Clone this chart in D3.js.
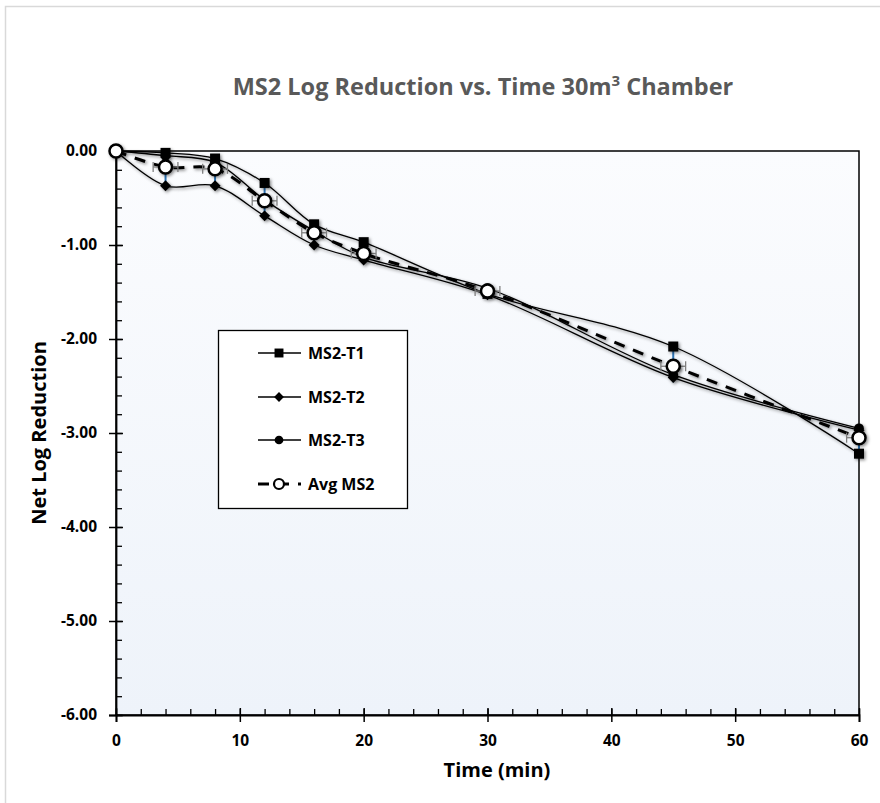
<!DOCTYPE html>
<html>
<head>
<meta charset="utf-8">
<script src="https://cdn.jsdelivr.net/npm/d3@7"></script>
<style>
  body { margin: 0; background: #ffffff; }
  text { font-family: "Open Sans", "DejaVu Sans", sans-serif; font-weight: bold; }
</style>
</head>
<body>
<div id="canvas"></div>
<script>
"use strict"

/* Data */
let times = [0, 4, 8, 12, 16, 20, 30, 45, 60];
let seriesT1 = [0, -0.02, -0.08, -0.34, -0.78, -0.97, -1.52, -2.08, -3.22];
let seriesT2 = [0, -0.37, -0.37, -0.69, -1.00, -1.16, -1.53, -2.41, -2.97];
let seriesT3 = [0, -0.05, -0.12, -0.52, -0.85, -1.13, -1.46, -2.38, -2.95];
let seriesAvg = [0, -0.17, -0.19, -0.53, -0.87, -1.09, -1.49, -2.29, -3.05];
let avgYErr = [0, 0.17, 0.15, 0.18, 0.11, 0.10, 0.04, 0.17, 0.14];
let avgXErr = [0, 1, 1, 1, 1, 1, 1, 1, 1];
let legendNames = ["MS2-T1", "MS2-T2", "MS2-T3", "Avg MS2"];
let xTicks = [0, 10, 20, 30, 40, 50, 60];
let yTicks = [0, -1, -2, -3, -4, -5, -6];

/* Drawing configuration */
let svgWidth = 880;
let svgHeight = 803;
let plot = {left: 116, right: 859, top: 151, bottom: 715};

let svg = d3.select("#canvas")
    .append("svg")
    .attr("width", svgWidth)
    .attr("height", svgHeight);

let defs = svg.append("defs");

let grad = defs.append("linearGradient")
    .attr("id", "bg")
    .attr("x1", 0).attr("y1", 0)
    .attr("x2", 0).attr("y2", 1);
grad.append("stop").attr("offset", "0%").attr("stop-color", "#fbfcfe");
grad.append("stop").attr("offset", "100%").attr("stop-color", "#eef3fa");

let shadow = defs.append("filter")
    .attr("id", "shadow")
    .attr("x", "-50%").attr("y", "-50%")
    .attr("width", "200%").attr("height", "200%");
shadow.append("feDropShadow")
    .attr("dx", 1.5).attr("dy", 1.5)
    .attr("stdDeviation", 1.5)
    .attr("flood-color", "#000")
    .attr("flood-opacity", 0.45);

/* outer chart frame */
svg.append("rect")
    .attr("x", 5.5).attr("y", 6.5)
    .attr("width", svgWidth).attr("height", svgHeight)
    .attr("fill", "#ffffff")
    .attr("stroke", "#d9d9d9")
    .attr("stroke-width", 1.5);

let xScale = d3.scaleLinear()
    .domain([0, 60])
    .range([plot.left, plot.right]);

let yScale = d3.scaleLinear()
    .domain([-6, 0])
    .range([plot.bottom, plot.top]);

/* plot background and border */
svg.append("rect")
    .attr("x", plot.left)
    .attr("y", plot.top)
    .attr("width", plot.right - plot.left)
    .attr("height", plot.bottom - plot.top)
    .attr("fill", "url(#bg)")
    .attr("stroke", "#000")
    .attr("stroke-width", 1.5);

/* title */
let title = svg.append("text")
    .attr("x", 483)
    .attr("y", 95)
    .attr("text-anchor", "middle")
    .attr("fill", "#595959")
    .style("font-size", "23.5px");
title.append("tspan").text("MS2 Log Reduction vs. Time 30m");
title.append("tspan").attr("dy", -9).style("font-size", "15px").text("3");
title.append("tspan").attr("dy", 9).text(" Chamber");

/* axes: minor ticks first, then majors */
svg.append("g")
    .attr("transform", "translate(0," + plot.bottom + ")")
    .call(d3.axisBottom(xScale).tickValues(d3.range(0, 61, 2)).tickSize(-6).tickFormat(""))
    .call(g => g.select(".domain").remove())
    .selectAll("line").attr("stroke", "#000").attr("stroke-width", 1.3);

svg.append("g")
    .attr("transform", "translate(" + plot.left + ",0)")
    .call(d3.axisLeft(yScale).tickValues(d3.range(-30, 1).map(d => d / 5)).tickSize(-6).tickFormat(""))
    .call(g => g.select(".domain").remove())
    .selectAll("line").attr("stroke", "#000").attr("stroke-width", 1.3);

let xAxis = svg.append("g")
    .attr("transform", "translate(0," + plot.bottom + ")")
    .call(d3.axisBottom(xScale).tickValues(xTicks).tickSize(7).tickPadding(13).tickFormat(d3.format("d")));
xAxis.select(".domain").attr("stroke", "#000").attr("stroke-width", 1.8);
xAxis.selectAll(".tick line").attr("y1", -7).attr("stroke", "#000").attr("stroke-width", 1.5);
xAxis.selectAll(".tick text").attr("fill", "#000").style("font-size", "15.5px")
    .style("font-family", "'Open Sans', sans-serif").style("font-weight", "bold");

let yAxis = svg.append("g")
    .attr("transform", "translate(" + plot.left + ",0)")
    .call(d3.axisLeft(yScale).tickValues(yTicks).tickSize(7).tickPadding(12));
yAxis.select(".domain").attr("stroke", "#000").attr("stroke-width", 1.8);
yAxis.selectAll(".tick line").attr("x1", 7).attr("stroke", "#000").attr("stroke-width", 1.5);
yAxis.selectAll(".tick text").attr("fill", "#000").style("font-size", "15.5px")
    .style("font-family", "'Open Sans', sans-serif").style("font-weight", "bold")
    .text(d => d === 0 ? "0.00" : "-" + Math.abs(d).toFixed(2));

/* axis titles */
svg.append("text")
    .attr("x", 497)
    .attr("y", 777)
    .attr("text-anchor", "middle")
    .style("font-size", "20px")
    .text("Time (min)");

svg.append("text")
    .attr("transform", "translate(46,433) rotate(-90)")
    .attr("text-anchor", "middle")
    .style("font-size", "20px")
    .text("Net Log Reduction");

/* lines */
let lineGen = d3.line()
    .x((d, i) => xScale(times[i]))
    .y(d => yScale(d))
    .curve(d3.curveCatmullRom.alpha(0.5));

let seriesList = [seriesT1, seriesT2, seriesT3];
let lines = svg.append("g").attr("filter", "url(#shadow)");

seriesList.forEach(s => {
    lines.append("path")
        .attr("d", lineGen(s))
        .attr("fill", "none")
        .attr("stroke", "#000")
        .attr("stroke-width", 1.3);
});

lines.append("path")
    .attr("d", lineGen(seriesAvg))
    .attr("fill", "none")
    .attr("stroke", "#000")
    .attr("stroke-width", 3)
    .attr("stroke-dasharray", "11,9");

/* error bars */
let errG = svg.append("g");
times.forEach((t, i) => {
    if (avgYErr[i] > 0) {
        errG.append("line")
            .attr("x1", xScale(t)).attr("x2", xScale(t))
            .attr("y1", yScale(seriesAvg[i] + avgYErr[i]))
            .attr("y2", yScale(seriesAvg[i] - avgYErr[i]))
            .attr("stroke", "#2e75b6")
            .attr("stroke-width", 2);
    }
    if (avgXErr[i] > 0) {
        let y = yScale(seriesAvg[i]);
        let x0 = xScale(t - avgXErr[i]);
        let x1 = xScale(Math.min(60, t + avgXErr[i]));
        errG.append("line")
            .attr("x1", x0).attr("x2", x1)
            .attr("y1", y).attr("y2", y)
            .attr("stroke", "#7f7f7f").attr("stroke-width", 1.3);
        [x0, x1].forEach(x => {
            errG.append("line")
                .attr("x1", x).attr("x2", x)
                .attr("y1", y - 5).attr("y2", y + 5)
                .attr("stroke", "#7f7f7f").attr("stroke-width", 1.3);
        });
    }
});

/* markers: square, rotated square (diamond), circle */
let symbols = [d3.symbolSquare, d3.symbolSquare, d3.symbolCircle];
let symRotate = [0, 45, 0];
let symSizes = [100, 60, 75];
let marks = svg.append("g").attr("filter", "url(#shadow)");

seriesList.forEach((s, k) => {
    marks.selectAll(null)
        .data(s)
        .join("path")
        .attr("transform", (d, i) => "translate(" + xScale(times[i]) + "," + yScale(d) + ") rotate(" + symRotate[k] + ")")
        .attr("d", d3.symbol().type(symbols[k]).size(symSizes[k]))
        .attr("fill", "#000");
});

marks.selectAll(null)
    .data(seriesAvg)
    .join("circle")
    .attr("cx", (d, i) => xScale(times[i]))
    .attr("cy", d => yScale(d))
    .attr("r", 6.5)
    .attr("fill", "#fff")
    .attr("stroke", "#000")
    .attr("stroke-width", 2.5);

/* legend */
let legend = svg.append("g");
legend.append("rect")
    .attr("x", 218.5).attr("y", 330.5)
    .attr("width", 189).attr("height", 178)
    .attr("fill", "#fff")
    .attr("stroke", "#000")
    .attr("stroke-width", 1.3);

let legendY = [353, 397, 440, 484];
legendNames.forEach((name, k) => {
    let y = legendY[k];
    if (k < 3) {
        legend.append("line")
            .attr("x1", 258).attr("x2", 301)
            .attr("y1", y).attr("y2", y)
            .attr("stroke", "#000").attr("stroke-width", 1.3);
        legend.append("path")
            .attr("transform", "translate(279," + y + ") rotate(" + symRotate[k] + ")")
            .attr("d", d3.symbol().type(symbols[k]).size(symSizes[k] * 0.8))
            .attr("fill", "#000");
    } else {
        legend.append("line")
            .attr("x1", 258).attr("x2", 301)
            .attr("y1", y).attr("y2", y)
            .attr("stroke", "#000").attr("stroke-width", 3)
            .attr("stroke-dasharray", "11,9");
        legend.append("circle")
            .attr("cx", 279).attr("cy", y).attr("r", 5)
            .attr("fill", "#fff").attr("stroke", "#000").attr("stroke-width", 2.2);
    }
    legend.append("text")
        .attr("x", 308)
        .attr("y", y)
        .attr("dy", "0.35em")
        .style("font-size", "16px")
        .text(name);
});
</script>
</body>
</html>
